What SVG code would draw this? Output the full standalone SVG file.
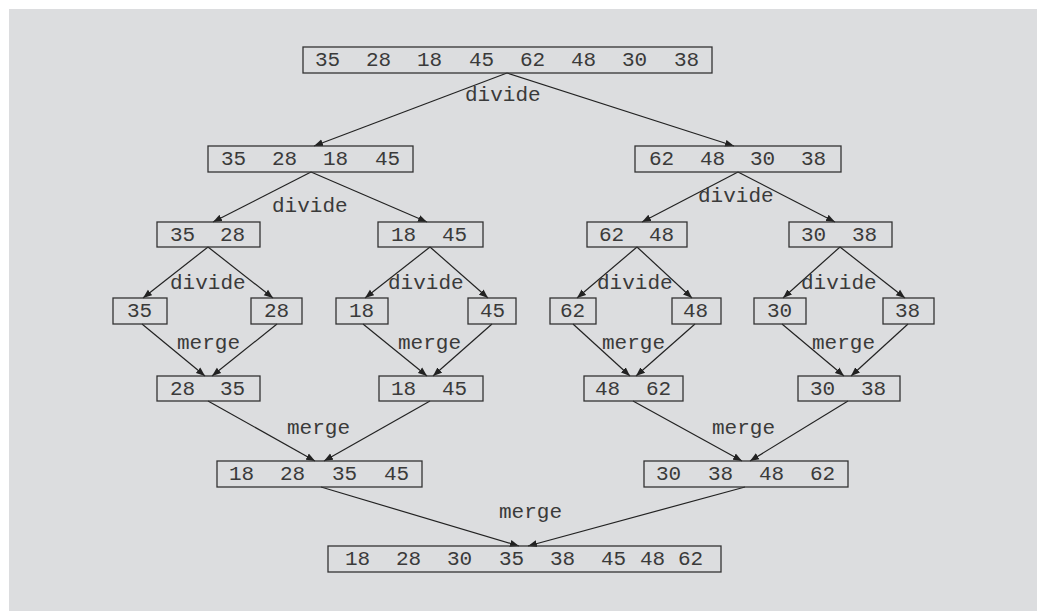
<svg xmlns="http://www.w3.org/2000/svg" width="1037" height="611" viewBox="0 0 1037 611">
<defs>
<marker id="ah" markerUnits="userSpaceOnUse" markerWidth="10" markerHeight="8" refX="9" refY="4" orient="auto">
<path d="M0,0.5 L9,4 L0,7.5 z" fill="#222"/>
</marker>
<style>
.bx{fill:none;stroke:#333;stroke-width:1.3}
.n{font-family:"Liberation Mono","Courier New",monospace;font-size:21px;fill:#3a3a3a}
.lb{font-family:"Liberation Mono","Courier New",monospace;font-size:21px;fill:#3a3a3a}
.c line{stroke:#222;stroke-width:1.2;marker-end:url(#ah)}
</style>
</defs>
<rect x="0" y="0" width="1037" height="611" fill="#ffffff"/>
<rect x="9" y="9" width="1028" height="602" fill="#dcdddf"/>

<g id="connectors" class="c">
<line x1="507" y1="73" x2="314" y2="146"/>
<line x1="507" y1="73" x2="734" y2="146"/>
<line x1="311" y1="172" x2="213" y2="222"/>
<line x1="311" y1="172" x2="427" y2="222"/>
<line x1="738" y1="172" x2="642" y2="222"/>
<line x1="738" y1="172" x2="835" y2="222"/>
<line x1="208" y1="247" x2="143" y2="298"/>
<line x1="208" y1="247" x2="273" y2="298"/>
<line x1="430" y1="247" x2="365" y2="298"/>
<line x1="430" y1="247" x2="488" y2="298"/>
<line x1="637" y1="247" x2="577" y2="298"/>
<line x1="637" y1="247" x2="692" y2="298"/>
<line x1="840" y1="247" x2="783" y2="298"/>
<line x1="840" y1="247" x2="905" y2="298"/>
<line x1="142" y1="324" x2="205" y2="376"/>
<line x1="277" y1="324" x2="212" y2="376"/>
<line x1="363" y1="324" x2="427" y2="376"/>
<line x1="492" y1="324" x2="433" y2="376"/>
<line x1="573" y1="324" x2="630" y2="376"/>
<line x1="695" y1="324" x2="636" y2="376"/>
<line x1="782" y1="324" x2="844" y2="376"/>
<line x1="908" y1="324" x2="851" y2="376"/>
<line x1="208" y1="401" x2="315" y2="461"/>
<line x1="430" y1="401" x2="324" y2="461"/>
<line x1="633" y1="401" x2="742" y2="461"/>
<line x1="848" y1="401" x2="750" y2="461"/>
<line x1="321" y1="487" x2="519" y2="546"/>
<line x1="745" y1="487" x2="528" y2="546"/>
</g>

<g id="labels">
<text class="lb" x="465" y="101">divide</text>
<text class="lb" x="272" y="212">divide</text>
<text class="lb" x="698" y="202">divide</text>
<text class="lb" x="170" y="289">divide</text>
<text class="lb" x="388" y="289">divide</text>
<text class="lb" x="597" y="289">divide</text>
<text class="lb" x="801" y="289">divide</text>
<text class="lb" x="177" y="349">merge</text>
<text class="lb" x="398" y="349">merge</text>
<text class="lb" x="602" y="349">merge</text>
<text class="lb" x="812" y="349">merge</text>
<text class="lb" x="287" y="434">merge</text>
<text class="lb" x="712" y="434">merge</text>
<text class="lb" x="499" y="518">merge</text>
</g>

<g id="n0"><rect class="bx" x="303" y="47" width="409" height="26"/>
<text class="n" y="66"><tspan x="315">35</tspan><tspan x="366">28</tspan><tspan x="417">18</tspan><tspan x="469">45</tspan><tspan x="520">62</tspan><tspan x="571">48</tspan><tspan x="622">30</tspan><tspan x="674">38</tspan></text></g>

<g id="n1a"><rect class="bx" x="208" y="146" width="205" height="26"/>
<text class="n" y="165"><tspan x="221">35</tspan><tspan x="272">28</tspan><tspan x="323">18</tspan><tspan x="375">45</tspan></text></g>
<g id="n1b"><rect class="bx" x="635" y="146" width="206" height="26"/>
<text class="n" y="165"><tspan x="649">62</tspan><tspan x="700">48</tspan><tspan x="750">30</tspan><tspan x="801">38</tspan></text></g>

<g id="n2a"><rect class="bx" x="157" y="222" width="103" height="25"/>
<text class="n" y="241"><tspan x="170">35</tspan><tspan x="220">28</tspan></text></g>
<g id="n2b"><rect class="bx" x="378" y="222" width="105" height="25"/>
<text class="n" y="241"><tspan x="391">18</tspan><tspan x="442">45</tspan></text></g>
<g id="n2c"><rect class="bx" x="587" y="222" width="100" height="25"/>
<text class="n" y="241"><tspan x="599">62</tspan><tspan x="649">48</tspan></text></g>
<g id="n2d"><rect class="bx" x="789" y="222" width="103" height="25"/>
<text class="n" y="241"><tspan x="801">30</tspan><tspan x="852">38</tspan></text></g>

<g id="n3a"><rect class="bx" x="113" y="298" width="54" height="26"/><text class="n" x="127" y="317">35</text></g>
<g id="n3b"><rect class="bx" x="251" y="298" width="51" height="26"/><text class="n" x="264" y="317">28</text></g>
<g id="n3c"><rect class="bx" x="336" y="298" width="52" height="26"/><text class="n" x="349" y="317">18</text></g>
<g id="n3d"><rect class="bx" x="468" y="298" width="48" height="26"/><text class="n" x="480" y="317">45</text></g>
<g id="n3e"><rect class="bx" x="550" y="298" width="46" height="26"/><text class="n" x="560" y="317">62</text></g>
<g id="n3f"><rect class="bx" x="672" y="298" width="49" height="26"/><text class="n" x="683" y="317">48</text></g>
<g id="n3g"><rect class="bx" x="754" y="298" width="52" height="26"/><text class="n" x="767" y="317">30</text></g>
<g id="n3h"><rect class="bx" x="883" y="298" width="51" height="26"/><text class="n" x="895" y="317">38</text></g>

<g id="n4a"><rect class="bx" x="157" y="376" width="103" height="25"/>
<text class="n" y="395"><tspan x="170">28</tspan><tspan x="220">35</tspan></text></g>
<g id="n4b"><rect class="bx" x="379" y="376" width="104" height="25"/>
<text class="n" y="395"><tspan x="391">18</tspan><tspan x="442">45</tspan></text></g>
<g id="n4c"><rect class="bx" x="584" y="376" width="99" height="25"/>
<text class="n" y="395"><tspan x="595">48</tspan><tspan x="646">62</tspan></text></g>
<g id="n4d"><rect class="bx" x="798" y="376" width="102" height="25"/>
<text class="n" y="395"><tspan x="810">30</tspan><tspan x="861">38</tspan></text></g>

<g id="n5a"><rect class="bx" x="217" y="461" width="205" height="26"/>
<text class="n" y="480"><tspan x="229">18</tspan><tspan x="280">28</tspan><tspan x="332">35</tspan><tspan x="384">45</tspan></text></g>
<g id="n5b"><rect class="bx" x="644" y="461" width="204" height="26"/>
<text class="n" y="480"><tspan x="656">30</tspan><tspan x="708">38</tspan><tspan x="759">48</tspan><tspan x="810">62</tspan></text></g>

<g id="n6"><rect class="bx" x="328" y="546" width="393" height="26"/>
<text class="n" y="565"><tspan x="345">18</tspan><tspan x="396">28</tspan><tspan x="447">30</tspan><tspan x="499">35</tspan><tspan x="550">38</tspan><tspan x="601">45</tspan><tspan x="640">48</tspan><tspan x="678">62</tspan></text></g>
</svg>
